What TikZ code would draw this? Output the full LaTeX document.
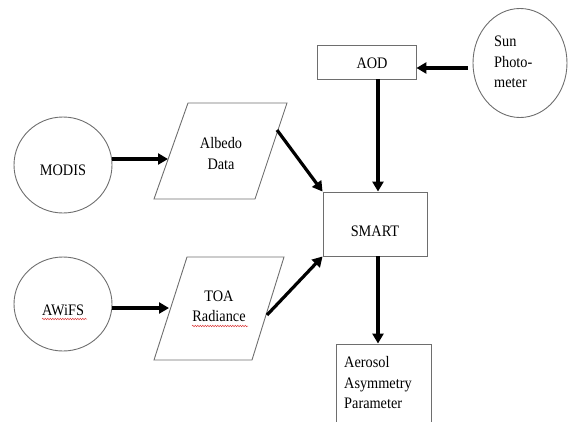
\documentclass[tikz,border=0pt]{standalone}
\usepackage{fontspec}
\setmainfont{Liberation Serif}
\usetikzlibrary{arrows.meta,shapes.geometric,decorations.pathmorphing}
\definecolor{outl}{RGB}{110,110,110}
\definecolor{spell}{RGB}{220,60,60}
\newcommand{\vst}[1]{\scalebox{1}[1.12]{#1}}
\begin{document}
\begin{tikzpicture}[x=1pt,y=-1pt,
  outline/.style={draw=outl, line width=0.9pt},
  arr/.style={line width=3.2pt, -{Triangle[length=10pt,width=11pt]}},
  lbl/.style={font=\fontsize{14.3}{20.5}\selectfont, inner sep=0pt, align=center},
  lblleft/.style={font=\fontsize{14.3}{20.5}\selectfont, inner sep=0pt, align=left},
  squiggle/.style={draw=spell, line width=0.5pt, decorate, decoration={snake, amplitude=0.7pt, segment length=2.5pt}}
  ]
\useasboundingbox (0,0) rectangle (568,421);

% circles
\node[ellipse, outline, minimum width=98pt, minimum height=96pt] (modis) at (63,165) {};
\node[lbl] (modist) at (63,170) {\vst{MODIS}};
\node[ellipse, outline, minimum width=98pt, minimum height=94pt] (awifs) at (63,304) {};
\node[lbl] (awifst) at (63,310) {\vst{AWiFS}};
\node[ellipse, outline, minimum width=94pt, minimum height=109pt] (sun) at (520,63) {};
\node[lblleft, anchor=west] (sunt) at (494,62) {\vst{Sun}\\\vst{Photo-}\\\vst{meter}};

% parallelograms
\coordinate (a1) at (188,103); \coordinate (a2) at (287,103);
\coordinate (a3) at (255,199); \coordinate (a4) at (154,199);
\draw[outline] (a1) -- (a2) -- (a3) -- (a4) -- cycle;
\node[lbl] (albedo) at (221,153.5) {\vst{Albedo}\\\vst{Data}};
\coordinate (t1) at (187,257); \coordinate (t2) at (284,257);
\coordinate (t3) at (252,360); \coordinate (t4) at (154,360);
\draw[outline] (t1) -- (t2) -- (t3) -- (t4) -- cycle;
\node[lbl] (toa) at (219,306.5) {\vst{TOA}\\\vst{Radiance}};

% rectangles
\node[rectangle, outline, minimum width=99pt, minimum height=34pt] (aod) at (366.5,62) {};
\node[lbl] (aodt) at (372,63) {\vst{AOD}};
\node[rectangle, outline, minimum width=104pt, minimum height=64pt] (smart) at (375,224) {};
\node[lbl] (smartt) at (375,231) {\vst{SMART}};
\node[rectangle, outline, minimum width=95pt, minimum height=96pt] (aer) at (383.5,392) {};
\node[lblleft, anchor=west] (aert) at (344,383) {\vst{Aerosol}\\\vst{Asymmetry}\\\vst{Parameter}};

% spell-check underlines
\coordinate (s1) at (42,319); \coordinate (s2) at (87,319);
\draw[squiggle] (s1) -- (s2);
\coordinate (s3) at (192,326); \coordinate (s4) at (248,326);
\draw[squiggle] (s3) -- (s4);

% connectors
\coordinate (albin) at (168,159);
\draw[arr] (modis.east |- albin) -- (albin);
\coordinate (toain) at (169,308);
\draw[arr] (awifs.east |- toain) -- (toain);
\coordinate (albout) at (277,130);
\draw[arr] (albout) -- (smart.north west);
\coordinate (toaout) at (267,315);
\draw[arr] (toaout) -- (smart.south west);
\coordinate (sunout) at (468,68);
\draw[arr] (sunout) -- (aod.east |- sunout);
\coordinate (col) at (378,0);
\draw[arr] (aod.south -| col) -- (smart.north -| col);
\draw[arr] (smart.south -| col) -- (aer.north -| col);
\end{tikzpicture}
\end{document}
